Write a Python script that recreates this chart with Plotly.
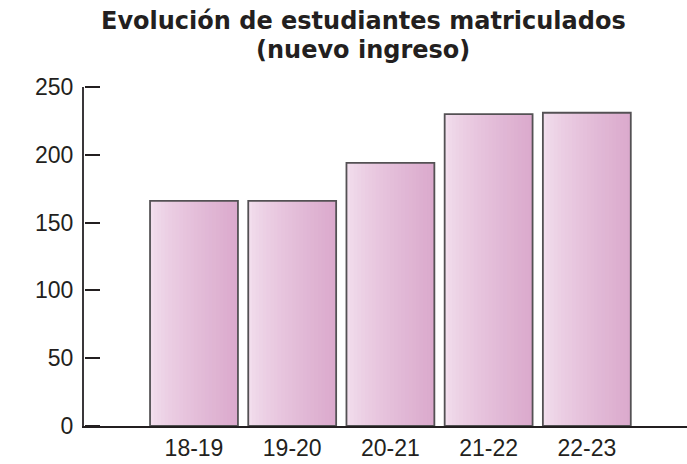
import plotly.graph_objects as go

## data
cursos = ['18-19', '19-20', '20-21', '21-22', '22-23']
matriculados = [166, 166, 194, 230, 231]
y_ticks = [0, 50, 100, 150, 200, 250]
titulo = ['Evolución de estudiantes matriculados', '(nuevo ingreso)']

## style
left_rgb = (242, 222, 237)
right_rgb = (219, 170, 205)
n_strips = 24
bar_w = 0.895
ink = '#231f20'

fig = go.Figure()

## gradient: each strip runs from its left offset to the bar's right edge
for i in range(n_strips):
    t = (i / (n_strips - 1)) ** 0.75
    c = tuple(round(a + (b - a) * t) for a, b in zip(left_rgb, right_rgb))
    off = -bar_w / 2 + i * bar_w / n_strips
    fig.add_trace(go.Bar(
        x = cursos, y = matriculados,
        width = bar_w / 2 - off, offset = off,
        marker = dict(color = 'rgb(%d,%d,%d)' % c, line = dict(width = 0)),
        hoverinfo = 'skip', showlegend = False,
    ))

## outline (on the twin axis that carries the right-pointing ticks)
fig.add_trace(go.Bar(
    x = cursos, y = matriculados, width = bar_w, offset = -bar_w / 2,
    marker = dict(color = 'rgba(0,0,0,0)', line = dict(color = '#545154', width = 1.8)),
    showlegend = False, yaxis = 'y2',
))

## two-line title as annotations
for txt, ypos in zip(titulo, [1.195, 1.109]):
    fig.add_annotation(
        text = '<b>%s</b>' % txt, xref = 'paper', yref = 'paper',
        x = 0.4627, y = ypos, xanchor = 'center', yanchor = 'middle',
        showarrow = False,
        font = dict(family = 'DejaVu Sans', size = 24, color = ink),
    )

fig.update_layout(
    width = 687, height = 464,
    barmode = 'overlay',
    plot_bgcolor = 'white', paper_bgcolor = 'white',
    margin = dict(l = 84, r = 0, t = 87, b = 38, autoexpand = False),
    font = dict(family = 'Liberation Sans', size = 23, color = ink),
    xaxis = dict(
        type = 'category', range = [-1.12, 5.02],
        showline = True, linecolor = ink, linewidth = 2,
        ticks = '', showgrid = False, zeroline = False,
    ),
    yaxis = dict(
        range = [0, 250], tickmode = 'array', tickvals = y_ticks,
        showline = True, linecolor = '#3a373a', linewidth = 2,
        ticks = '', showgrid = False, zeroline = False,
        ticklabelstandoff = 4,
    ),
    yaxis2 = dict(
        overlaying = 'y', side = 'right', anchor = 'free', position = 0,
        range = [0, 250], tickmode = 'array', tickvals = y_ticks,
        ticks = 'outside', ticklen = 15, tickwidth = 2, tickcolor = ink,
        showticklabels = False, showline = False, showgrid = False, zeroline = False,
    ),
)

fig.write_html(
    "out.html",
    config = dict(displayModeBar = False),
    post_script = "document.body.style.margin='0';document.body.style.overflow='hidden';",
)
